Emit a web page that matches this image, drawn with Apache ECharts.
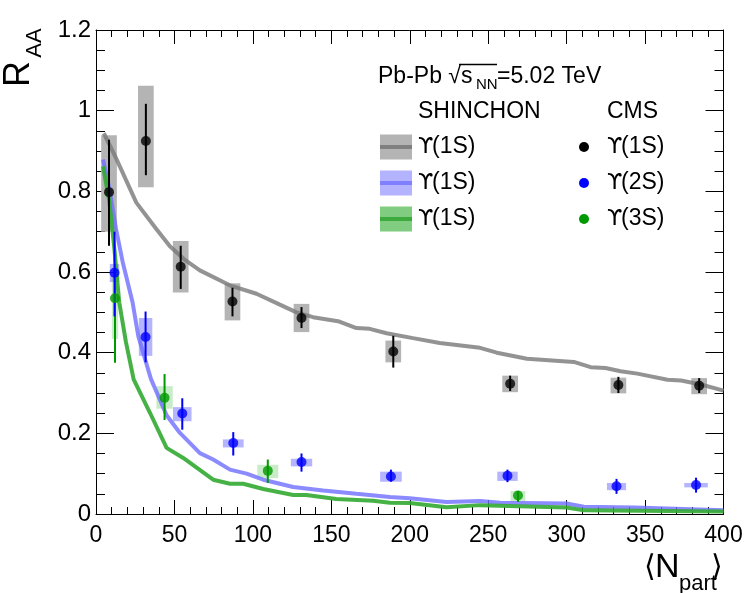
<!DOCTYPE html>
<html><head><meta charset="utf-8">
<script src="https://cdn.jsdelivr.net/npm/echarts@6/dist/echarts.min.js"></script>
<style>html,body{margin:0;padding:0;background:#fff}#c{width:747px;height:593px}</style>
</head><body><div id="c"></div>
<script>
const FONT = '"Liberation Sans", Arial, Helvetica, sans-serif';

// ---- SHINCHON model curves ----
const shin1S_x = [5, 12.7, 25.7, 38.2, 47.1, 56, 66.2, 85.3, 102.3, 117.2, 127.8, 138.4, 154.3, 166, 174.5, 185.2, 202.1, 219.1, 244.8, 255.5, 274.7, 304.6, 315.3, 324.8, 334.4, 345.1, 364.3, 372.9, 385.7, 400];
const shin1S_y = [0.944, 0.883, 0.772, 0.708, 0.664, 0.632, 0.604, 0.567, 0.546, 0.519, 0.500, 0.488, 0.478, 0.461, 0.459, 0.448, 0.436, 0.424, 0.412, 0.400, 0.385, 0.377, 0.364, 0.362, 0.354, 0.348, 0.333, 0.331, 0.321, 0.306];
const shin2S_x = [4.5, 8.5, 12.7, 17, 23.3, 27, 35, 45, 53.5, 66.2, 74.7, 85.4, 96, 106.6, 125.7, 144.8, 166, 187.3, 200, 223.5, 244.8, 257.6, 300, 311, 343, 400];
const shin2S_y = [0.879, 0.808, 0.708, 0.625, 0.525, 0.440, 0.335, 0.245, 0.201, 0.151, 0.135, 0.110, 0.100, 0.085, 0.067, 0.058, 0.050, 0.042, 0.039, 0.030, 0.032, 0.028, 0.026, 0.018, 0.016, 0.009];
const shin3S_x = [4.5, 8.5, 11.7, 14.8, 19.1, 24, 34.4, 45, 55.6, 74.7, 85.4, 93.8, 106.6, 125.7, 134, 153.2, 176.6, 187.3, 200, 223.5, 244.8, 300, 311, 400];
const shin3S_y = [0.862, 0.775, 0.658, 0.525, 0.426, 0.334, 0.251, 0.164, 0.139, 0.085, 0.075, 0.075, 0.062, 0.047, 0.047, 0.037, 0.033, 0.028, 0.027, 0.017, 0.022, 0.016, 0.009, 0.006];

// ---- CMS data ----
const cms1S_x = [8.3, 31.8, 54, 87, 131, 189.5, 264, 333, 384.5];
const cms1S_y = [0.798, 0.925, 0.613, 0.527, 0.486, 0.403, 0.323, 0.320, 0.318];
const cms1S_statLo = [0.665, 0.840, 0.558, 0.490, 0.461, 0.363, 0.305, 0.300, 0.300];
const cms1S_statHi = [0.928, 1.017, 0.665, 0.561, 0.513, 0.442, 0.343, 0.340, 0.337];
const cms1S_systLo = [0.700, 0.810, 0.549, 0.480, 0.451, 0.376, 0.302, 0.299, 0.297];
const cms1S_systHi = [0.939, 1.062, 0.677, 0.572, 0.521, 0.430, 0.343, 0.338, 0.337];
const cms1S_systDx = [5, 5, 5, 5, 5, 5, 5, 5, 5];

const cms2S_x = [11.8, 31.6, 55, 87.5, 131, 188, 262.3, 331.8, 382.5];
const cms2S_y = [0.598, 0.439, 0.249, 0.176, 0.129, 0.093, 0.095, 0.069, 0.072];
const cms2S_statLo = [0.490, 0.376, 0.209, 0.145, 0.105, 0.080, 0.079, 0.050, 0.053];
const cms2S_statHi = [0.700, 0.502, 0.287, 0.203, 0.150, 0.110, 0.110, 0.087, 0.090];
const cms2S_systLo = [0.575, 0.392, 0.230, 0.165, 0.118, 0.080, 0.082, 0.059, 0.066];
const cms2S_systHi = [0.620, 0.486, 0.265, 0.185, 0.137, 0.105, 0.105, 0.077, 0.077];
const cms2S_systDx = [3, 4.3, 5.9, 6.6, 6.8, 6.9, 6.5, 6.1, 7.5];

const cms3S_x = [12.1, 43.7, 109.5, 269];
const cms3S_y = [0.535, 0.288, 0.107, 0.046];
const cms3S_statLo = [0.375, 0.233, 0.077, 0.030];
const cms3S_statHi = [0.620, 0.347, 0.135, 0.057];
const cms3S_systLo = [0.434, 0.261, 0.089, 0.032];
const cms3S_systHi = [0.590, 0.317, 0.122, 0.057];
const cms3S_systDx = [2, 5.2, 6.7, 4.7];

// ---- axis ticks ----
const xMin = 0, xMax = 400, xStep = 50;
const yMin = 0, yMax = 1.2, yStep = 0.2;

const zip = (xs, ys) => xs.map((x, i) => [x, ys[i]]);

function boxSeries(xs, lo, hi, dx, color) {
  return {
    type: 'custom', silent: true, z: 2,
    renderItem(params, api) {
      const x = api.value(0), l = api.value(1), h = api.value(2), d = api.value(3);
      const p1 = api.coord([x - d, h]), p2 = api.coord([x + d, l]);
      return { type: 'rect', shape: { x: p1[0], y: p1[1], width: p2[0] - p1[0], height: p2[1] - p1[1] }, style: { fill: color } };
    },
    data: xs.map((x, i) => [x, lo[i], hi[i], dx[i]])
  };
}
function errSeries(xs, lo, hi, color) {
  return {
    type: 'custom', silent: true, z: 5,
    renderItem(params, api) {
      const x = api.value(0);
      const p1 = api.coord([x, api.value(2)]), p2 = api.coord([x, api.value(1)]);
      return { type: 'line', shape: { x1: p1[0], y1: p1[1], x2: p2[0], y2: p2[1] }, style: { stroke: color, lineWidth: 2 } };
    },
    data: xs.map((x, i) => [x, lo[i], hi[i]])
  };
}
function lineSeries(xs, ys, color) {
  return {
    type: 'line', data: zip(xs, ys), showSymbol: false, symbol: 'none', z: 3, silent: true,
    lineStyle: { color: color, width: 4 }
  };
}
function pointSeries(xs, ys, color) {
  return { type: 'scatter', data: zip(xs, ys), symbol: 'circle', symbolSize: 10, itemStyle: { color: color }, z: 6, silent: true };
}

function makeAxis(pos, min, max, step, majorLen, minorLen, minorSplit, label) {
  return {
    type: 'value', position: pos, min: min, max: max, interval: step,
    axisLine: { show: true, onZero: false, lineStyle: { color: '#000' } },
    axisTick: { show: true, inside: true, length: majorLen, lineStyle: { color: '#000' } },
    minorTick: { show: true, splitNumber: minorSplit, length: minorLen, lineStyle: { color: '#000' } },
    splitLine: { show: false },
    axisLabel: label || { show: false }
  };
}

const legendRows = [
  { y: 147, box: '#b4b4b4', line: '#808080', dot: '#000000', cms: '(1S)' },
  { y: 183, box: '#b3b3ff', line: '#8080ff', dot: '#0000ff', cms: '(2S)' },
  { y: 219, box: '#80cc80', line: '#3caa3c', dot: '#009900', cms: '(3S)' }
];
const graphics = [];
function T(x, y, text, size, family, align, rotation) {
  const el = {
    type: 'text', x: x, y: y, silent: true, z: 100,
    style: { text: text, fontSize: size, fontFamily: family || FONT, fill: '#000', align: align || 'left', verticalAlign: 'middle' }
  };
  if (rotation) el.rotation = rotation;
  return el;
}

graphics.push(T(378, 76.5, 'Pb-Pb \u221As', 23));
graphics.push(T(476, 84.5, 'NN', 15));
graphics.push(T(497, 76.5, '=5.02 TeV', 23));
graphics.push({ type: 'line', silent: true, z: 100, shape: { x1: 459, y1: 64.5, x2: 497, y2: 64.5 }, style: { stroke: '#000', lineWidth: 1.3 } });
graphics.push(T(418, 112, 'SHINCHON', 23));
graphics.push(T(607, 112, 'CMS', 23));
legendRows.forEach(r => {
  graphics.push({ type: 'rect', silent: true, z: 100, shape: { x: 380, y: r.y - 12.5, width: 32, height: 25 }, style: { fill: r.box } });
  graphics.push({ type: 'rect', silent: true, z: 100, shape: { x: 380, y: r.y - 2, width: 32, height: 4 }, style: { fill: r.line } });
  graphics.push(T(418, r.y, '\u03D2', 22, '"DejaVu Sans"'));
  graphics.push(T(432, r.y, '(1S)', 23));
  graphics.push({ type: 'circle', silent: true, z: 100, shape: { cx: 584, cy: r.y, r: 5 }, style: { fill: r.dot } });
  graphics.push(T(607, r.y, '\u03D2', 22, '"DejaVu Sans"'));
  graphics.push(T(621, r.y, r.cms, 23));
});
// axis titles
graphics.push(T(19.5, 74, 'R', 36, FONT, 'center', Math.PI / 2));
graphics.push(T(34.5, 43, 'AA', 22, FONT, 'center', Math.PI / 2));
graphics.push(T(644, 568, '\u27E8', 30));
graphics.push(T(655, 568, 'N', 34));
graphics.push(T(679, 584, 'part', 22));
graphics.push(T(711, 568, '\u27E9', 30));

const option = {
  animation: false,
  grid: { left: 96, right: 23.5, top: 30, bottom: 79 },
  xAxis: [
    makeAxis('bottom', xMin, xMax, xStep, 14, 7, 5, { fontSize: 23, fontFamily: FONT, color: '#000', margin: 10 }),
    makeAxis('top', xMin, xMax, xStep, 14, 7, 5)
  ],
  yAxis: [
    makeAxis('left', yMin, yMax, yStep, 18, 9, 4, { fontSize: 24, fontFamily: FONT, color: '#000', margin: 5, formatter: v => String(Math.round(v * 10) / 10) }),
    makeAxis('right', yMin, yMax, yStep, 18, 9, 4)
  ],
  series: [
    boxSeries(cms1S_x, cms1S_systLo, cms1S_systHi, cms1S_systDx, '#b4b4b4'),
    boxSeries(cms2S_x, cms2S_systLo, cms2S_systHi, cms2S_systDx, 'rgba(90,90,255,0.45)'),
    boxSeries(cms3S_x, cms3S_systLo, cms3S_systHi, cms3S_systDx, 'rgba(0,170,0,0.22)'),
    lineSeries(shin1S_x, shin1S_y, 'rgba(120,120,120,0.8)'),
    lineSeries(shin2S_x, shin2S_y, 'rgba(110,110,255,0.8)'),
    lineSeries(shin3S_x, shin3S_y, 'rgba(50,170,50,0.9)'),
    errSeries(cms3S_x, cms3S_statLo, cms3S_statHi, '#009900'),
    errSeries(cms2S_x, cms2S_statLo, cms2S_statHi, '#0000ff'),
    errSeries(cms1S_x, cms1S_statLo, cms1S_statHi, '#000000'),
    pointSeries(cms1S_x, cms1S_y, '#000000'),
    pointSeries(cms2S_x, cms2S_y, '#0000ff'),
    pointSeries(cms3S_x, cms3S_y, '#009900')
  ],
  graphic: graphics
};
const chart = echarts.init(document.getElementById('c'));
chart.setOption(option);
</script>
</body></html>
